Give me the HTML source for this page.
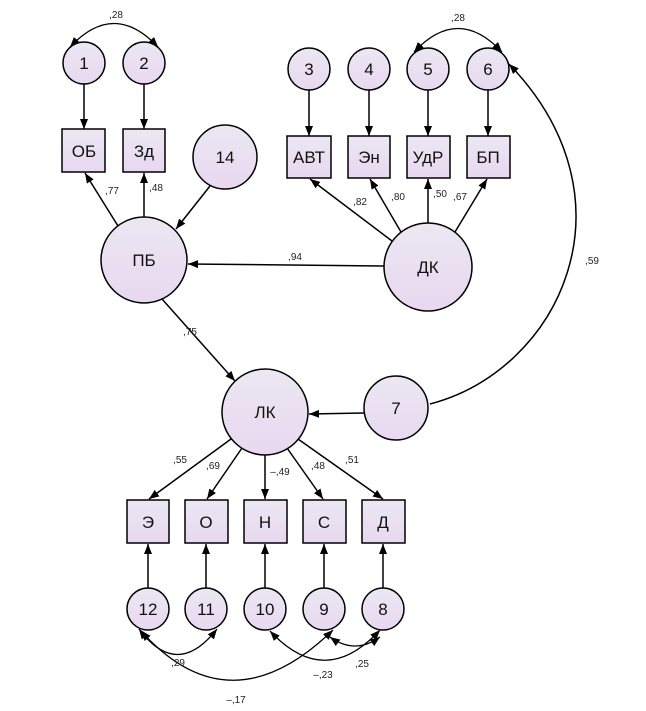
<!DOCTYPE html>
<html><head><meta charset="utf-8"><style>body{margin:0;background:#fff}svg{display:block}text{font-family:"Liberation Sans",sans-serif}</style></head><body>
<svg width="646" height="711" viewBox="0 0 646 711" xmlns="http://www.w3.org/2000/svg">
<defs>
<linearGradient id="g" x1="0" y1="0" x2="0" y2="1"><stop offset="0" stop-color="#ebe8f2"/><stop offset="1" stop-color="#e8d8f0"/></linearGradient>
<marker id="a" viewBox="0 0 10 10" refX="10" refY="5" markerWidth="10" markerHeight="10" markerUnits="userSpaceOnUse" orient="auto-start-reverse"><path d="M0,1 L10,5 L0,9z" fill="#000"/></marker>
</defs>
<g fill="url(#g)" stroke="#000" stroke-width="1.5">
<circle cx="84" cy="63" r="21"/><circle cx="144" cy="63" r="21"/>
<circle cx="309" cy="69" r="21"/><circle cx="369" cy="69" r="21"/><circle cx="428" cy="69" r="21"/><circle cx="488" cy="69" r="21"/>
<rect x="62" y="129" width="43" height="43"/><rect x="123" y="129" width="42" height="43"/>
<circle cx="225" cy="157" r="32"/>
<rect x="287" y="136" width="44" height="42"/><rect x="348" y="136" width="42" height="42"/><rect x="407" y="136" width="43" height="42"/><rect x="467" y="136" width="43" height="42"/>
<circle cx="144" cy="260" r="43"/><circle cx="428" cy="267" r="44"/>
<circle cx="265" cy="412" r="43"/><circle cx="396" cy="408" r="32"/>
<rect x="127" y="500" width="42" height="43"/><rect x="185" y="500" width="43" height="43"/><rect x="244" y="500" width="43" height="43"/><rect x="303" y="500" width="43" height="43"/><rect x="362" y="500" width="43" height="43"/>
<circle cx="148" cy="609" r="21"/><circle cx="206" cy="609" r="21"/><circle cx="265" cy="609" r="21"/><circle cx="324" cy="609" r="21"/><circle cx="383" cy="609" r="21"/>
</g>
<g fill="none" stroke="#000" stroke-width="1.5" marker-end="url(#a)">
<line x1="84" y1="84" x2="84" y2="129"/><line x1="144" y1="84" x2="144" y2="129"/>
<line x1="309" y1="90" x2="309" y2="136"/><line x1="369" y1="90" x2="369" y2="136"/><line x1="428" y1="90" x2="428" y2="136"/><line x1="488" y1="90" x2="488" y2="136"/>
<line x1="118" y1="226" x2="85" y2="173"/><line x1="144" y1="217" x2="144" y2="173"/>
<line x1="210" y1="186" x2="176" y2="229"/>
<line x1="392" y1="241" x2="310" y2="179"/><line x1="401" y1="232" x2="370" y2="179"/><line x1="428" y1="223" x2="428" y2="179"/><line x1="455" y1="232" x2="487" y2="179"/>
<line x1="384" y1="266" x2="188" y2="264"/>
<line x1="162" y1="299" x2="235" y2="381"/>
<line x1="364" y1="413" x2="309" y2="414"/>
<path d="M430,404 C560,370 640,200 509,64"/>
<line x1="231" y1="439" x2="149" y2="499"/><line x1="242" y1="448" x2="207" y2="499"/><line x1="265" y1="455" x2="265" y2="499"/><line x1="287" y1="448" x2="323" y2="499"/><line x1="298" y1="439" x2="383" y2="499"/>
<line x1="148" y1="588" x2="148" y2="544"/><line x1="206" y1="588" x2="206" y2="544"/><line x1="265" y1="588" x2="265" y2="544"/><line x1="324" y1="588" x2="324" y2="544"/><line x1="383" y1="588" x2="383" y2="544"/>
</g>
<g fill="none" stroke="#000" stroke-width="1.3" marker-start="url(#a)" marker-end="url(#a)">
<path d="M70,47 Q114,0 158,47"/><path d="M414,52 Q458,5 502,52"/>
<path d="M139,629 Q177,680 217,629"/>
<path d="M141,631 Q230,730 333,630"/>
<path d="M270,631 Q325,690 380,630"/>
<path d="M330,637 Q355,655 380,637"/>
</g>
<g font-size="17" text-anchor="middle" fill="#111">
<text x="84" y="69">1</text><text x="144" y="69">2</text><text x="309" y="75">3</text><text x="369" y="75">4</text><text x="428" y="75">5</text><text x="488" y="75">6</text>
<text x="84" y="157">ОБ</text><text x="144" y="157">Зд</text><text x="225" y="163">14</text>
<text x="309" y="163">АВТ</text><text x="369" y="163">Эн</text><text x="428" y="163">УдР</text><text x="488" y="163">БП</text>
<text x="144" y="266">ПБ</text><text x="428" y="273">ДК</text><text x="265" y="418">ЛК</text><text x="396" y="414">7</text>
<text x="148" y="528">Э</text><text x="206" y="528">О</text><text x="265" y="528">Н</text><text x="324" y="528">С</text><text x="383" y="528">Д</text>
<text x="148" y="615">12</text><text x="206" y="615">11</text><text x="265" y="615">10</text><text x="324" y="615">9</text><text x="383" y="615">8</text>
</g>
<g font-size="10" text-anchor="middle" fill="#222">
<text x="116" y="18">,28</text><text x="458" y="21">,28</text>
<text x="112" y="194">,77</text><text x="156" y="191">,48</text>
<text x="360" y="205">,82</text><text x="398" y="200">,80</text><text x="440" y="197">,50</text><text x="460" y="200">,67</text>
<text x="295" y="260">,94</text><text x="592" y="264">,59</text><text x="190" y="335">,75</text>
<text x="180" y="463">,55</text><text x="213" y="469">,69</text><text x="280" y="475">–,49</text><text x="318" y="469">,48</text><text x="352" y="463">,51</text>
<text x="178" y="666">,29</text><text x="236" y="703">–,17</text><text x="323" y="678">–,23</text><text x="362" y="667">,25</text>
</g>
</svg>
</body></html>
